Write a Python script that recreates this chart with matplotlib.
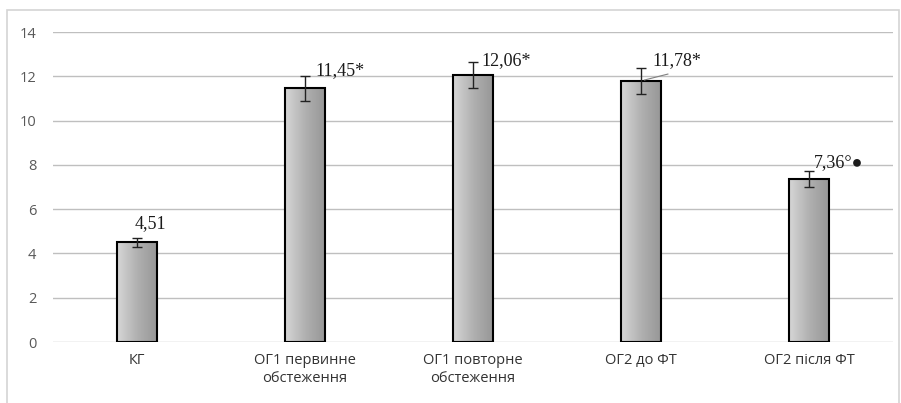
import matplotlib.pyplot as plt
import numpy as np
from matplotlib.colors import LinearSegmentedColormap
from matplotlib.patches import Rectangle

categories = ["КГ", "ОГ1 первинне\nобстеження", "ОГ1 повторне\nобстеження", "ОГ2 до ФТ", "ОГ2 після ФТ"]
values = [4.51, 11.45, 12.06, 11.78, 7.36]
errors = [0.20, 0.56, 0.60, 0.58, 0.38]
value_labels = ["4,51", "11,45*", "12,06*", "11,78*", "7,36°●"]

# label placement: x offset from the bar centre (category units), y in data units, alignment
label_dx = [0.08, 0.06, 0.05, 0.07, 0.03]
label_y = [5.33, 12.24, 12.7, 12.7, 8.1]
label_ha = ["center", "left", "left", "left", "left"]

fig = plt.figure(figsize=(9.01, 4.03), dpi=100)
ax = fig.add_axes([53 / 901, 61 / 403, 840 / 901, 310 / 403])

# light frame around the chart area
fig.patches.append(Rectangle((7 / 901, -0.05), 892 / 901, 1.05 - 10 / 403,
                             transform=fig.transFigure, fill=False,
                             edgecolor="#d4d4d4", linewidth=1.2))

x = np.arange(len(categories))
bars = ax.bar(x, values, width=0.24, color="none", edgecolor="black",
              linewidth=1.5, zorder=3)

gray_ramp = LinearSegmentedColormap.from_list("bar_ramp", ["#d6d6d6", "#b0b0b0", "#969696"])
gradient = np.linspace(0, 1, 64).reshape(1, -1)
for bar in bars:
    x0, w, h = bar.get_x(), bar.get_width(), bar.get_height()
    img = ax.imshow(gradient, cmap=gray_ramp, aspect="auto",
                    extent=(x0, x0 + w, 0, h), zorder=2)
    img.set_clip_path(bar)

ax.errorbar(x, values, yerr=errors, fmt="none", ecolor="#222222",
            elinewidth=1.0, capsize=3.5, capthick=1.0, zorder=4)

for i, text in enumerate(value_labels):
    ax.text(x[i] + label_dx[i], label_y[i], text, ha=label_ha[i], va="center",
            fontsize=13, family=["Liberation Serif", "DejaVu Serif"], color="#1a1a1a",
            zorder=5)

# leader line for the fourth label
ax.plot([x[3] + 0.02, x[3] + 0.16], [values[3] + 0.05, values[3] + 0.32],
        color="#808080", linewidth=0.8, zorder=5)

ax.set_xlim(-0.5, len(categories) - 0.5)
ax.set_ylim(0, 14)
ax.set_yticks(np.arange(0, 15, 2))
ax.set_xticks(x)
ax.set_xticklabels(categories, fontsize=10.5, family="Open Sans", color="#333333",
                   linespacing=1.25)
for lbl in ax.get_yticklabels():
    lbl.set_family("Open Sans")
ax.tick_params(axis="y", labelsize=10.5, colors="#595959", length=0, pad=12)
ax.tick_params(axis="x", length=0, pad=8)
ax.grid(axis="y", color="#bfbfbf", linewidth=1.0, zorder=0)
ax.set_axisbelow(True)
for side in ("top", "right", "left", "bottom"):
    ax.spines[side].set_visible(False)

fig.savefig("out.png", dpi=100)
